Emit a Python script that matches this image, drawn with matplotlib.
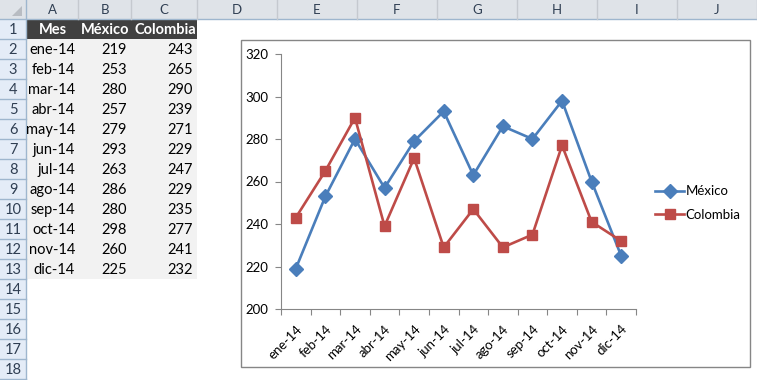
import matplotlib
matplotlib.use('Agg')
import matplotlib.pyplot as plt
from matplotlib.patches import Rectangle, Polygon

plt.rcParams['font.family'] = ['Lato', 'DejaVu Sans']

# data of the sheet
meses = ['ene-14', 'feb-14', 'mar-14', 'abr-14', 'may-14', 'jun-14',
         'jul-14', 'ago-14', 'sep-14', 'oct-14', 'nov-14', 'dic-14']
mexico = [219, 253, 280, 257, 279, 293, 263, 286, 280, 298, 260, 225]
colombia = [243, 265, 290, 239, 271, 229, 247, 229, 235, 277, 241, 232]
encabezados = ['Mes', 'México', 'Colombia']
columnas = ['A', 'B', 'C', 'D', 'E', 'F', 'G', 'H', 'I', 'J']
y_ticks = [200, 220, 240, 260, 280, 300, 320]

W, H = 757, 380
fig = plt.figure(figsize=(W/100, H/100), dpi=100)

# whole-figure axes in pixel coords for the spreadsheet
sh = fig.add_axes([0, 0, 1, 1])
sh.set_xlim(0, W)
sh.set_ylim(H, 0)
sh.axis('off')

col_edges = [26, 78, 131, 197, 277, 357, 437, 517, 597, 677, 757]
row_h = 20
top = 19
hdr_txt = '#2f3e52'

# column header bar
sh.add_patch(Rectangle((0, 0), W, top, fc='#dfe3e8', ec='none'))
sh.plot([0, W], [top, top], color='#9eb6ce', lw=1)
for i, c in enumerate(columnas):
    x0, x1 = col_edges[i], col_edges[i+1]
    sh.plot([x1, x1], [0, top], color='#c5c9cf', lw=1)
    sh.text((x0+x1)/2, top/2+1, c, ha='center', va='center', fontsize=9.5, color=hdr_txt)
# corner
sh.add_patch(Polygon([[22, 6], [22, 16], [12, 16]], closed=True, fc='#b8bcc2', ec='none'))

# row headers
sh.add_patch(Rectangle((0, top), 26, H-top, fc='#e4ecf7', ec='none', zorder=0))
sh.plot([26, 26], [0, H], color='#9eb6ce', lw=1)
for r in range(1, 19):
    y1 = top + r*row_h
    sh.plot([0, 26], [y1, y1], color='#9eb6ce', lw=1)
    sh.text(13, y1 - row_h/2 + 1, str(r), ha='center', va='center', fontsize=10.5, color=hdr_txt)

# table
sh.add_patch(Rectangle((26, top), 197-26, row_h, fc='#404040', ec='none'))
sh.add_patch(Rectangle((26, top+row_h), 197-26, 12*row_h, fc='#f2f2f2', ec='none'))
for i, t in enumerate(encabezados):
    x0, x1 = col_edges[i], col_edges[i+1]
    sh.text((x0+x1)/2 + 1, top + row_h - 5, t, ha='center', va='baseline',
            fontsize=10.5, fontweight='bold', color='white')
for k, (m, a, b) in enumerate(zip(meses, mexico, colombia)):
    yb = top + (k+2)*row_h - 5
    sh.text(75, yb, m, ha='right', va='baseline', fontsize=10.5, color='black')
    sh.text(127, yb, str(a), ha='right', va='baseline', fontsize=10.5, color='black')
    sh.text(193, yb, str(b), ha='right', va='baseline', fontsize=10.5, color='black')

# chart frame
sh.add_patch(Rectangle((240.5, 39.5), 750-240.5, 367-39.5, fc='white', ec='#868686', lw=1))

# plot area
pl, pr, pt, pb = 281, 636, 54, 309
ax = fig.add_axes([pl/W, 1-pb/H, (pr-pl)/W, (pb-pt)/H])
ax.patch.set_alpha(0)
x = list(range(len(meses)))
ax.plot(x, mexico, color='#4a7ebb', lw=1.9, marker='D', ms=7, label='México', clip_on=False)
ax.plot(x, colombia, color='#be4b48', lw=1.9, marker='s', ms=7.5, label='Colombia', clip_on=False)

ax.set_xlim(-0.5, len(meses)-0.5)
ax.set_ylim(200, 320)
ax.set_yticks(y_ticks)
ax.set_xticks([i-0.5 for i in range(len(meses)+1)])
ax.set_xticklabels([])
ax.set_xticks(x, minor=True)
ax.set_xticklabels(meses, minor=True, rotation=45, ha='right', rotation_mode='anchor', fontsize=9.5)
ax.tick_params(axis='x', which='minor', length=0, pad=10)
ax.tick_params(axis='x', which='major', length=4, color='#868686', direction='out')
ax.tick_params(axis='y', length=4, color='#868686', labelsize=9.5, pad=5)
for s in ['top', 'right']:
    ax.spines[s].set_visible(False)
for s in ['left', 'bottom']:
    ax.spines[s].set_color('#868686')

leg = ax.legend(loc='center left', bbox_to_anchor=(655/W, 1-203/H), bbox_transform=fig.transFigure,
                frameon=False, fontsize=9.5, handlelength=2.2, handletextpad=0.1,
                labelspacing=0.85, borderpad=0, borderaxespad=0)

fig.savefig('out.png', dpi=100)
